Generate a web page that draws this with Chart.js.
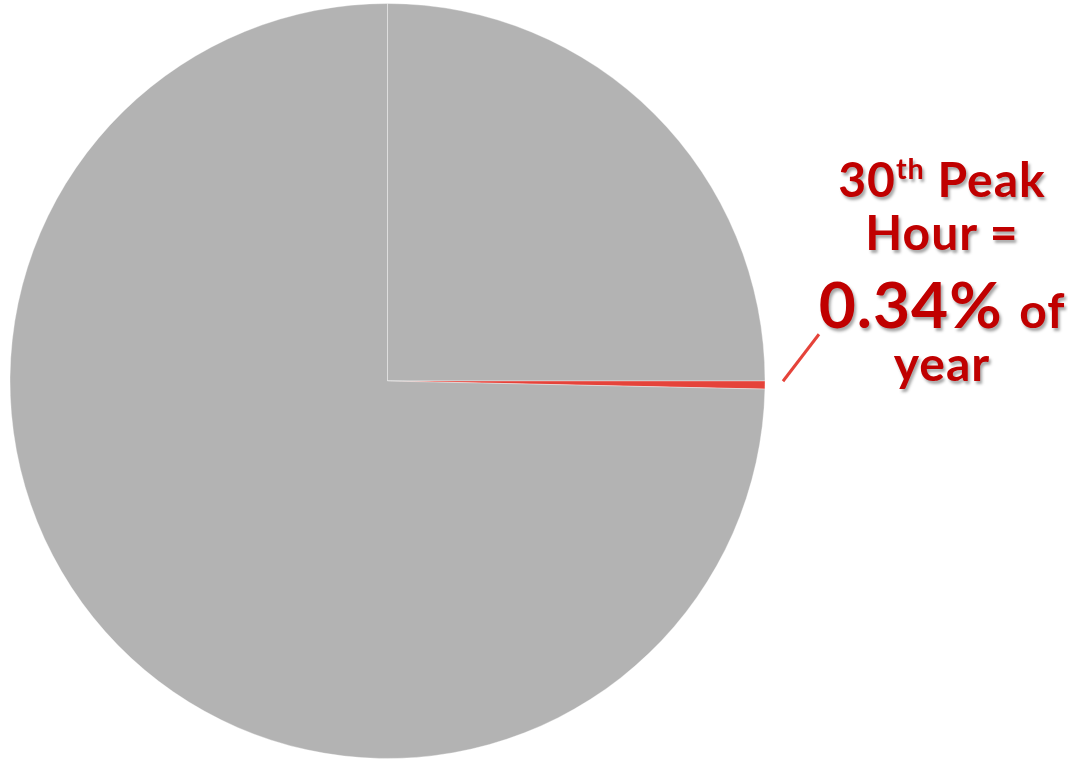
<!DOCTYPE html>
<html>
<head>
<meta charset="utf-8">
<script src="https://cdn.jsdelivr.net/npm/chart.js@4"></script>
<style>
  html, body { margin: 0; padding: 0; background: #fff; }
  #wrap { position: relative; width: 1068px; height: 761px; overflow: hidden; }
  canvas { position: absolute; left: 0; top: 0; }
  .note {
    position: absolute; left: 792px; width: 300px; text-align: center;
    font-family: Lato, sans-serif; font-weight: bold; color: #c00000; font-size: 48px;
    letter-spacing: 1px;
    text-shadow: 2px 3px 3px rgba(0,0,0,0.35); white-space: nowrap; line-height: 1;
  }
  .note sup { font-size: 0.6em; vertical-align: 0; position: relative; top: -0.62em; }
</style>
</head>
<body>
<div id="wrap">
  <canvas id="pie" width="1068" height="761"></canvas>
  <div class="note" style="top:155px;">30<sup>th</sup> Peak</div>
  <div class="note" style="top:208px;">Hour =</div>
  <div class="note" style="top:272px;font-size:64px;">0.34% <span style="font-size:48px;">of</span></div>
  <div class="note" style="top:339px;">year</div>
</div>
<script>
// hours of the year, split around the 30th peak hour
const categories = ['Hours before', '30th Peak Hour', 'Remaining hours'];
const hours = [2190, 30, 6540];
const colours = ['#b3b3b3', '#e5433a', '#b3b3b3'];

// short red leader from the peak slice out to the note
const leader = {
  id: 'leader',
  afterDraw(chart) {
    const arc = chart.getDatasetMeta(0).data[1];
    const mid = (arc.startAngle + arc.endAngle) / 2;
    const r = arc.outerRadius + 18;
    const x0 = arc.x + r * Math.cos(mid);
    const y0 = arc.y + r * Math.sin(mid) - 4;
    const ctx = chart.ctx;
    ctx.save();
    ctx.strokeStyle = '#e5433a';
    ctx.lineWidth = 3;
    ctx.beginPath();
    ctx.moveTo(x0, y0);
    ctx.lineTo(x0 + 36, y0 - 47);
    ctx.stroke();
    ctx.restore();
  }
};

new Chart(document.getElementById('pie'), {
  type: 'pie',
  data: {
    labels: categories,
    datasets: [{
      data: hours,
      backgroundColor: colours,
      borderColor: 'rgba(255,255,255,0.35)',
      borderWidth: 1
    }]
  },
  options: {
    responsive: false,
    animation: false,
    layout: { padding: { left: 9, top: 3, right: 302, bottom: 2 } },
    plugins: { legend: { display: false }, tooltip: { enabled: false } }
  },
  plugins: [leader]
});
</script>
</body>
</html>
